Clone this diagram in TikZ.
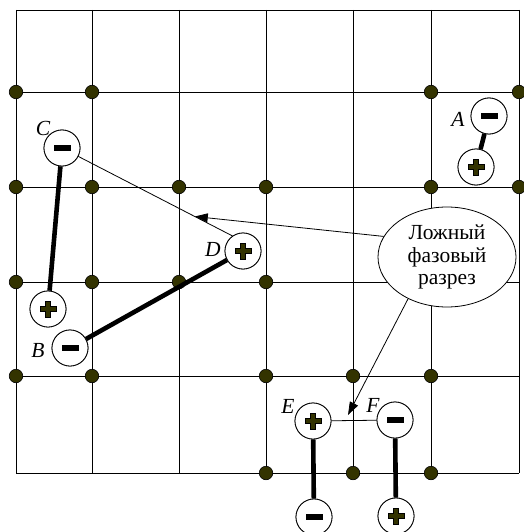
\documentclass[tikz,border=0pt]{standalone}
\usepackage{fontspec}
\setmainfont{Liberation Serif}
\usetikzlibrary{shapes.geometric,arrows.meta,calc}
\definecolor{dotolive}{HTML}{333300}
\tikzset{
  gridline/.style={line width=0.8pt,black},
  site/.style={circle,draw=black,fill=dotolive,line width=0.6pt,minimum size=13.5pt,inner sep=0pt},
  charge/.style={circle,draw=black,fill=white,line width=0.8pt,minimum size=36pt,inner sep=0pt},
  bond/.style={line width=4.6pt,black},
  thinlink/.style={line width=0.8pt,black},
  callout/.style={-{Triangle[length=13pt,width=9pt]},line width=0.8pt,black},
  lbl/.style={font=\fontsize{21.5}{23}\selectfont\itshape,inner sep=0pt},
  plussign/.pic={\filldraw[fill=dotolive,draw=black,line width=0.7pt]
     (-8,-2.5)--(-2.5,-2.5)--(-2.5,-8)--(2.5,-8)--(2.5,-2.5)--(8,-2.5)--(8,2.5)
     --(2.5,2.5)--(2.5,8)--(-2.5,8)--(-2.5,2.5)--(-8,2.5)--cycle;},
  minussign/.pic={\fill[black] (-8.5,-3.2) rectangle (8.5,3.2);}
}
\begin{document}
\begin{tikzpicture}[x=1pt,y=-1pt]
\useasboundingbox (0,0) rectangle (523,532);

% lattice
\foreach \gx in {16,92,179,266,353,431,519}
  \draw[gridline] (\gx,10) -- (\gx,473);
\foreach \gy in {10,92,187,282,376,473}
  \draw[gridline] (16,\gy) -- (519,\gy);

% lattice sites
\foreach \sx/\sy [count=\i] in {16/92,92/92,431/92,519/92,
   16/187,92/187,179/187,266/187,431/187,519/187,
   16/282,92/282,179/282,266/282,
   16/376,92/376,266/376,353/376,431/376,
   266/473,353/473,431/473}
  \node[site] (s\i) at (\sx,\sy) {};

% charges
\node[charge] (Am) at (489,116) {};
\node[charge] (Ap) at (476,167) {};
\node[charge] (C)  at (62,148)  {};
\node[charge] (Bp) at (48,309)  {};
\node[charge] (Bm) at (70,348)  {};
\node[charge] (D)  at (243,251) {};
\node[charge] (E)  at (313,421) {};
\node[charge] (Em) at (314,517) {};
\node[charge] (F)  at (395,420) {};
\node[charge] (Fp) at (396,516) {};

% bonds between paired charges
\draw[bond] (Am) -- (Ap);
\draw[bond] (C) -- (Bp);
\draw[bond] (Bm) -- (D);
\draw[bond] (E) -- (Em);
\draw[bond] (F) -- (Fp);

% phase-slip links
\draw[thinlink] (C) -- (D.125);
\draw[thinlink] (E) -- (F);

% redraw charges on top of the bonds
\foreach \n in {Am,Ap,C,Bp,Bm,D,E,Em,F,Fp}
  \node[charge] at (\n) {};
\foreach \n in {Ap,Bp,D,E,Fp}
  \pic at (\n) {plussign};
\foreach \n in {Am,C,Bm,Em,F}
  \pic at (\n) {minussign};

% labels
\node[lbl] (lA) at (458,119) {A};
\node[lbl] (lB) at (38,350)  {B};
\node[lbl] (lC) at (43,128)  {C};
\node[lbl] (lD) at (213,249) {D};
\node[lbl] (lE) at (288,406) {E};
\node[lbl] (lF) at (373,405) {F};

% callout
\node[ellipse,draw=black,fill=white,line width=0.8pt,minimum width=138pt,minimum height=100pt,
      inner sep=0pt,align=center,font=\fontsize{21.5}{22.5}\selectfont] (L) at (447,257)
      {Ложный\\фазовый\\разрез};
\coordinate (t1) at ($(C)!0.779!(D.125)$);
\coordinate (t2) at (348,415);
\draw[callout] (L.162) -- (t1);
\draw[callout] (L.-133) -- (t2);
\end{tikzpicture}
\end{document}
